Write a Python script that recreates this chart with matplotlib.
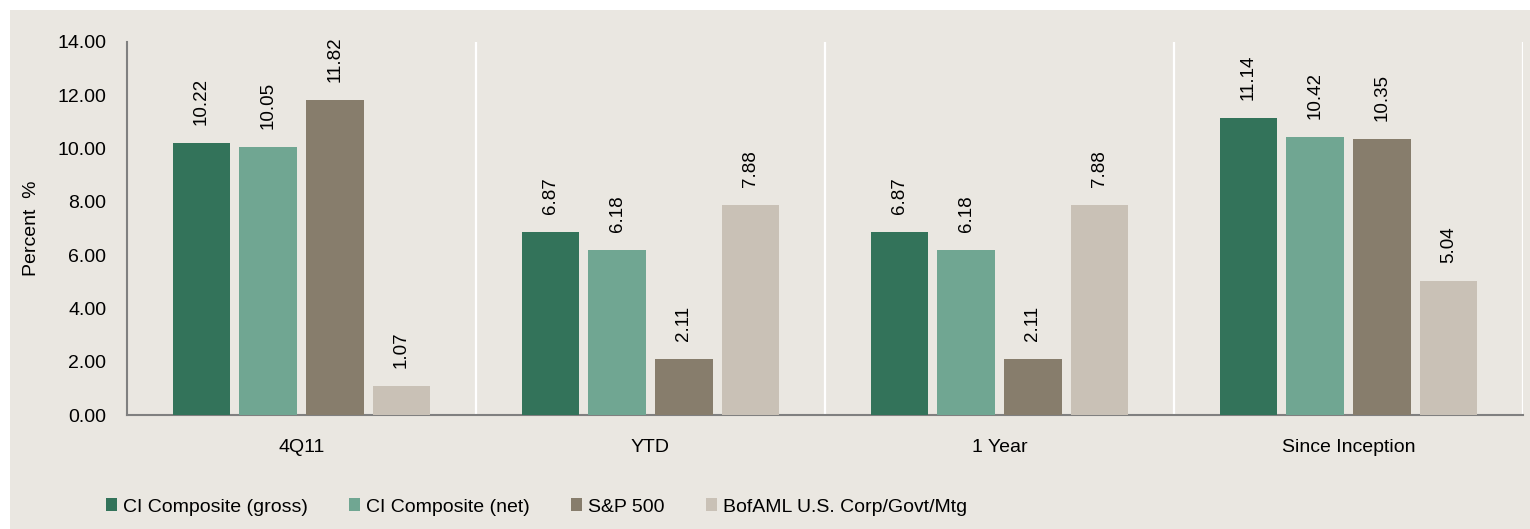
import numpy as np
import matplotlib.pyplot as plt
from matplotlib.patches import Rectangle

categories = ["4Q11", "YTD", "1 Year", "Since Inception"]
series_names = ["CI Composite (gross)", "CI Composite (net)", "S&P 500",
                "BofAML U.S. Corp/Govt/Mtg"]
gross = [10.22, 6.87, 6.87, 11.14]
net = [10.05, 6.18, 6.18, 10.42]
sp500 = [11.82, 2.11, 2.11, 10.35]
bofaml = [1.07, 7.88, 7.88, 5.04]
colors = ["#33735A", "#70A692", "#877D6C", "#C9C1B6"]

plt.rcParams['font.family'] = ['Liberation Sans', 'DejaVu Sans']
bg = "#EAE7E1"

fig = plt.figure(figsize=(15.3, 5.29), dpi=100, facecolor="white")
fig.patches.append(Rectangle((10 / 1530, 0), 1, 1 - 10 / 529,
                             transform=fig.transFigure, facecolor=bg,
                             edgecolor="none", zorder=-10))
ax = fig.add_axes([127 / 1530, 1 - 415 / 529, 1396 / 1530, 373 / 529])
ax.set_facecolor(bg)

x = np.arange(len(categories))
step = 0.191
width = 0.166
all_series = [gross, net, sp500, bofaml]
for i, (vals, name, c) in enumerate(zip(all_series, series_names, colors)):
    pos = x + (i - 1.5) * step
    ax.bar(pos, vals, width, color=c, label=name, zorder=3)
    for px, v in zip(pos, vals):
        ax.annotate(f"{v:.2f}", (px, v), xytext=(0, 13), textcoords="offset points",
                    rotation=90, ha="center", va="bottom", fontsize=13.5)

ax.set_xlim(-0.5, 3.5)
ax.set_ylim(0, 14)
ax.set_yticks(np.arange(0, 14.01, 2))
ax.set_yticklabels([f"{t:.2f}" for t in np.arange(0, 14.01, 2)])
ax.set_xticks(x)
ax.set_xticklabels(categories)
ax.tick_params(axis="y", length=0, pad=15, labelsize=14)
ax.tick_params(axis="x", length=0, pad=17, labelsize=14)
ax.set_ylabel("Percent  %", fontsize=14, labelpad=12)

for xv in [0.5, 1.5, 2.5, 3.5]:
    ax.axvline(xv, color="white", lw=1.6, zorder=1)

for s in ["top", "right"]:
    ax.spines[s].set_visible(False)
ax.spines["left"].set_color("#808080")
ax.spines["bottom"].set_color("#808080")
ax.spines["left"].set_linewidth(1.5)
ax.spines["bottom"].set_linewidth(1.5)

fig.legend(loc="center left", bbox_to_anchor=(88 / 1530, 1 - 507 / 529),
           ncol=4, frameon=False, fontsize=14, handlelength=0.6,
           handleheight=0.6, handletextpad=0.3, columnspacing=2.1)

fig.savefig("out.png", dpi=100, facecolor="white")
